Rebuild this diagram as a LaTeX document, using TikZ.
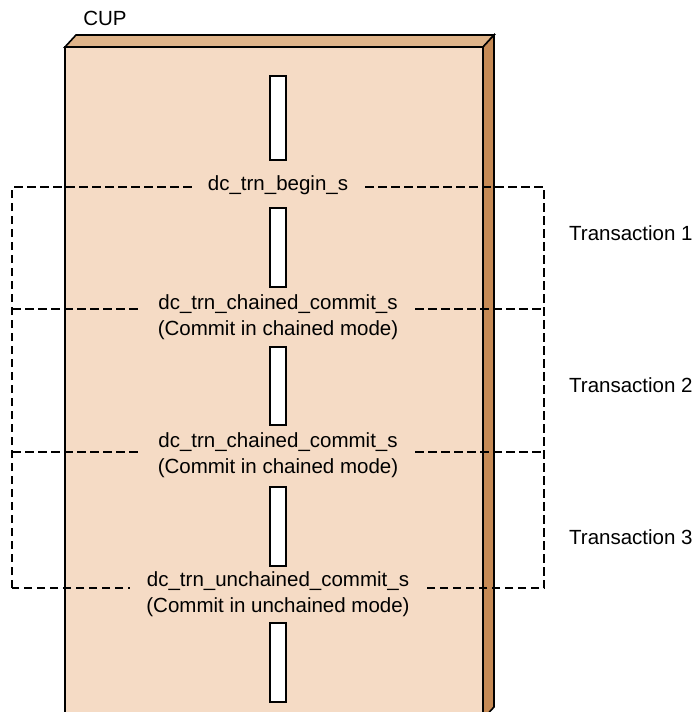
\documentclass[tikz,border=0pt]{standalone}
\usepackage{fontspec}
\setmainfont{Liberation Sans}
\definecolor{facefront}{HTML}{F5DBC5}
\definecolor{facetop}{HTML}{DFB48A}
\definecolor{faceside}{HTML}{C68A55}
\begin{document}
\begin{tikzpicture}[x=1pt,y=-1pt,
  lbl/.style={font=\fontsize{20.5}{26}\selectfont, inner sep=0pt},
  callname/.style={lbl, align=center, fill=facefront, inner xsep=16pt, inner ysep=1pt},
  bar/.style={draw=black, line width=1.5pt, fill=white, minimum width=16pt, inner sep=0pt},
  txbox/.style={draw=black, line width=1.4pt, dash pattern=on 8.5pt off 4.5pt},
  faceline/.style={draw=black, line width=1.6pt, line join=miter}]
\useasboundingbox (0,0) rectangle (696,712);
\clip (0,0) rectangle (696,712);

% process block: front, top and side faces
\fill[facefront] (65,47) rectangle (483,730);
\draw[faceline] (65,730) -- (65,47) -- (483,47) -- (483,730);
\filldraw[faceline, fill=facetop] (65,47) -- (76,35) -- (494,35) -- (483,47) -- cycle;
\filldraw[faceline, fill=faceside] (483,47) -- (494,35) -- (494,707) -- (483,719) -- cycle;

\node[lbl] (cup) at (105,18) {CUP};

% transaction boundaries
\draw[txbox] (12,588) -- (12,187) -- (544,187) -- (544,588) -- cycle;
\draw[txbox] (12,309) -- (544,309);
\draw[txbox] (12,452) -- (544,452);

% function calls
\node[callname] (begin) at (278,185) {dc\_trn\_begin\_s};
\node[callname] (commit1) at (278,317) {dc\_trn\_chained\_commit\_s\\(Commit in chained mode)};
\node[callname] (commit2) at (278,455) {dc\_trn\_chained\_commit\_s\\(Commit in chained mode)};
\node[callname] (commit3) at (278,594) {dc\_trn\_unchained\_commit\_s\\(Commit in unchained mode)};

% processing periods
\node[bar, minimum height=84pt] (p0) at (278,118) {};
\node[bar, minimum height=79pt] (p1) at (278,247.5) {};
\node[bar, minimum height=78pt] (p2) at (278,386) {};
\node[bar, minimum height=79pt] (p3) at (278,526.5) {};
\node[bar, minimum height=79pt] (p4) at (278,662.5) {};

% transaction labels
\node[lbl, anchor=west] (t1) at (569,233) {Transaction 1};
\node[lbl, anchor=west] (t2) at (569,385) {Transaction 2};
\node[lbl, anchor=west] (t3) at (569,537) {Transaction 3};
\end{tikzpicture}
\end{document}
